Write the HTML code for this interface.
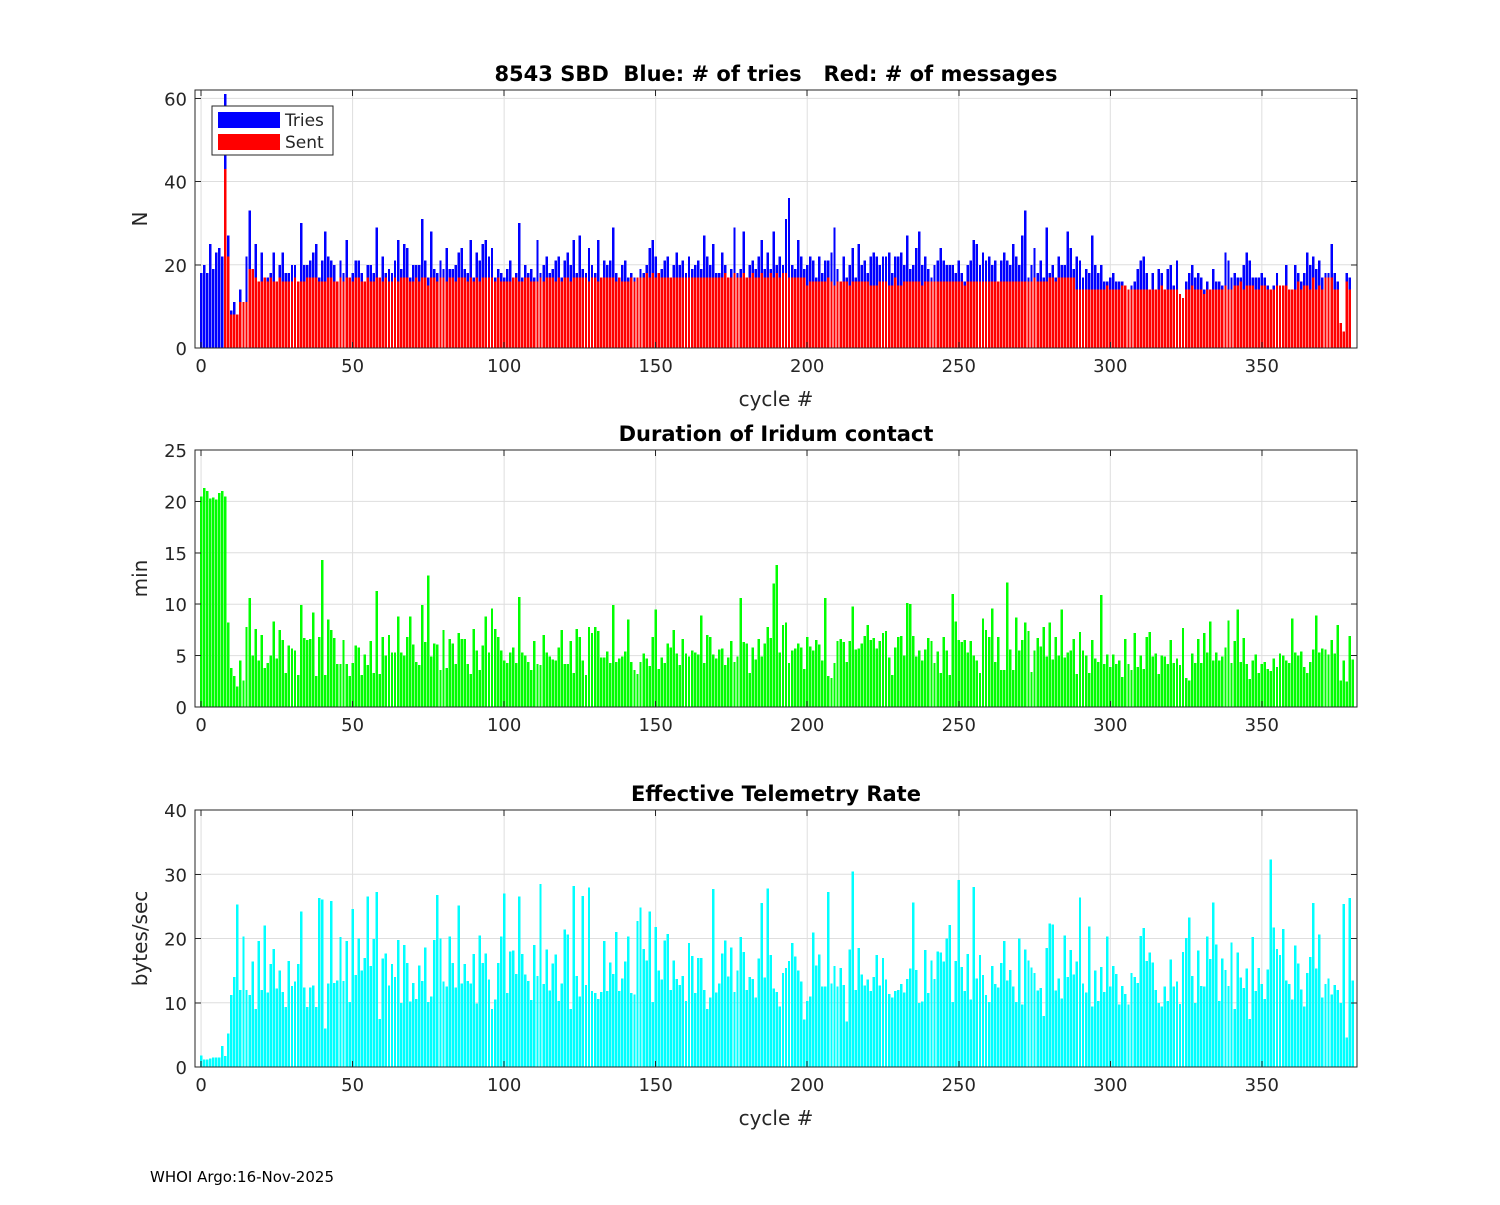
<!DOCTYPE html>
<html><head><meta charset="utf-8"><style>
body{margin:0;background:#fff;}
svg text{font-family:"DejaVu Sans","Liberation Sans",sans-serif;fill:#262626;white-space:pre;}
</style></head><body>
<svg id="c" width="1500" height="1200" viewBox="0 0 1500 1200" xmlns="http://www.w3.org/2000/svg">
<rect width="1500" height="1200" fill="#fff"/>
<text x="150" y="1182" font-size="15" style="fill:#000">WHOI Argo:16-Nov-2025</text>
</svg>
<script>
const tries=[18,20,18,25,19,23,24,22,61,27,9,11,8,14,11,22,33,19,25,16,
23,17,17,18,23,16,20,23,18,18,20,20,16,30,20,20,21,23,25,17,
21,28,22,21,20,16,21,18,26,17,18,21,21,18,16,20,20,18,29,17,
22,18,19,18,21,26,19,25,24,17,20,20,20,31,21,17,28,19,18,21,
19,24,19,19,20,23,24,19,18,26,17,23,21,25,26,22,24,17,19,18,
17,19,21,17,18,30,17,20,18,19,17,26,18,20,22,18,19,21,22,17,
21,23,20,26,18,27,19,18,24,20,18,26,17,21,20,21,29,18,17,20,
21,17,18,17,17,19,18,20,24,26,22,18,19,21,22,17,20,23,20,21,
18,22,19,20,21,19,27,22,20,25,18,18,23,20,17,19,29,18,19,28,
17,20,21,19,22,26,19,23,19,28,20,22,20,31,36,20,19,26,22,19,
20,22,21,17,22,18,21,21,23,29,19,16,22,17,20,24,17,25,20,21,
18,22,23,22,20,22,22,23,18,22,22,23,20,27,19,20,24,28,20,22,
19,17,20,21,24,21,20,20,20,18,21,18,16,20,21,26,25,20,23,21,
22,20,21,16,21,23,21,20,25,22,20,27,33,17,20,24,18,21,17,29,
18,20,17,22,20,20,28,24,19,22,21,17,19,18,27,20,18,20,16,16,
17,18,16,16,16,14,14,15,16,19,21,22,18,14,18,13,19,18,14,19,
20,15,21,13,12,16,18,20,17,18,17,14,16,14,19,16,16,15,23,21,
17,18,17,17,20,23,21,17,17,17,18,17,15,14,15,18,15,15,20,14,
14,20,18,16,18,23,20,22,19,21,17,18,18,25,18,16,6,4,18,17];
const sent=[0,0,0,0,0,0,0,0,43,22,8,8,8,11,11,11,19,19,17,16,
16,17,16,17,16,16,17,16,16,16,16,17,16,16,16,17,17,17,17,16,
16,16,17,17,16,16,17,16,17,17,16,17,17,16,16,17,16,16,17,17,
16,17,16,16,17,16,17,17,17,16,16,17,16,17,17,15,17,17,16,17,
17,16,17,17,16,17,17,17,16,17,16,17,16,17,17,17,17,16,17,16,
16,16,16,17,17,16,16,17,17,16,16,16,17,16,17,17,17,16,17,16,
17,17,16,17,17,17,17,17,16,17,17,16,17,17,17,17,17,16,17,16,
16,16,17,16,17,17,17,18,17,18,17,18,17,17,17,17,17,17,17,17,
17,17,17,17,17,17,17,17,17,17,17,17,17,18,17,17,18,17,17,18,
17,17,18,17,17,18,17,17,18,17,18,17,18,18,17,17,17,17,17,17,
15,16,16,16,16,16,16,17,16,15,16,16,16,16,15,16,16,16,16,16,
16,15,15,15,16,16,16,15,15,17,15,15,16,16,16,16,16,16,15,16,
16,16,16,16,16,16,16,16,16,16,16,16,15,16,16,16,16,16,16,16,
16,16,16,16,16,16,16,16,16,16,16,16,16,16,16,17,16,16,16,16,
17,17,16,17,17,17,17,17,17,14,14,14,14,14,14,14,14,14,14,15,
14,14,14,14,15,15,14,14,14,14,14,14,14,14,14,14,14,15,14,14,
14,14,14,13,12,14,14,15,14,14,14,13,14,14,14,14,14,14,15,14,
14,15,15,16,14,15,15,15,14,14,15,15,14,14,14,15,15,15,15,14,
14,14,16,14,15,15,14,17,14,15,14,17,17,17,14,14,6,4,16,14];
const duration=[20.5,21.3,21,20.3,20.4,20.2,20.8,21,20.5,8.2,3.8,3,2,4.5,2.6,7.8,10.6,5,7.6,4.5,
7,3.8,4.3,5,8.3,4.7,7.5,6.5,3.3,6,5.7,5.5,3.1,9.9,6.7,6.5,6.6,9.2,3,6.8,
14.3,3.1,8.5,7.5,6.7,4.2,4.2,6.5,4.2,3,4.3,6,5.8,3.1,5.1,4.1,6.4,3.3,11.3,3.2,
6.8,5,7,5.3,5.3,8.8,5.3,5,6.8,8.8,6.1,4.4,4.1,9.9,6.3,12.8,4.9,6.2,6.1,3.6,
7.5,3.8,6.6,6.2,4.2,7.2,6.6,6.6,4.2,3.2,7.6,5.5,3.6,6,8.8,5.3,9.6,7.6,6.8,5.5,
4.5,4.3,5.3,5.8,4.3,10.7,5.3,5,4.4,3.6,6.4,4.2,4.1,7,5.3,4.9,4.6,4.5,5.8,7.5,
4.2,4.2,6.4,3.3,7.6,6.8,4.5,3.1,7.8,7.2,7.8,7.4,4.8,4.8,5.4,4.3,9.9,4.4,4.7,4.9,
5.4,8.5,4.4,3.6,3.2,4.4,5.2,4.7,4,6.8,9.5,3.7,4.8,4.3,6.2,5.8,7.5,5.2,4.1,6.6,
5.2,4.9,5.5,5.3,5.1,8.9,4.3,7,6.8,5.1,4.7,5.6,5.7,4.1,4.8,6.4,4.4,4.9,10.6,6.3,
6.2,3.3,5.8,4.6,6.6,4.9,6.2,7.8,6.7,12,13.8,5.3,8,8.2,4.3,5.5,5.7,6.2,5.8,3.7,
6.8,5.9,5.5,6.5,6.1,4.5,10.6,3,2.8,4.3,6.4,6.6,6.3,4.4,6.4,9.8,5.6,5.7,6.2,6.9,
8,6.5,6.7,5.7,6.4,7.2,7.4,4.8,3.1,5.8,6.8,6.9,5,10.1,10,6.9,4.9,5.5,4.5,5.6,
6.7,6.4,4.3,5.4,3.3,6.8,5.5,3.1,11,8.3,6.5,6.3,6.5,5.3,6.4,5,4.5,3.3,8.6,7.5,
6.8,9.6,4.4,6.8,3.6,3.6,12.1,5.6,3.6,8.7,5.5,6.5,8.2,7.4,3.4,5.5,6.7,5.9,7.8,4.9,
8.2,4.6,6.8,5,9.5,4.8,5.3,5.5,6.6,3.2,7.3,5.5,5,3.3,6.5,4.7,4.4,10.9,4.2,5.1,
3.9,5.1,4.2,4.5,2.9,6.6,4.2,3.6,7.2,3.9,5,3.7,6.8,7.3,4.9,5.2,3.2,5,4.9,4.2,
6.5,4.3,4.7,4.1,7.7,2.8,2.6,5.2,4.3,6.6,4.3,7.2,5.3,8.3,4.5,5.3,4.5,4.9,5.8,8.4,
4.3,6.4,9.5,4.4,6.7,4.2,2.7,4.5,5.1,3.3,4.2,4.4,3.7,3.5,4.7,3.9,5.2,5,4.5,4.3,
8.6,5.3,5,5.4,3.9,3.3,4.4,5.6,8.9,5.3,5.7,5.6,5.1,6.5,5.2,8,2.6,4.5,2.5,6.9,4.6];
const rate=[1.8,1.2,1.2,1.3,1.5,1.5,1.5,3.3,1.7,5.2,11.2,14,25.3,12,20.3,12,11.2,16.4,9,19.6,
12,22,11.6,16,18.4,12.2,15,11.7,9.3,16.5,12.6,13.3,16,24.2,12.4,9.3,12.4,12.7,9.3,26.3,
26.1,6,13,25.8,13.1,13.5,20.2,13.4,19.6,10.1,24.6,14.3,20,15,17,26.5,15.7,19.9,27.2,7.5,
16.9,17.7,12.7,16,14,19.8,10,19,16.2,10.2,13.1,10.6,15.8,13.4,18.6,10.1,11,19.8,26.8,20,
13.3,12.5,20.3,16.2,12.4,25.1,13,16,13.4,13,17.6,9.9,20.5,16.2,17.7,13.6,9,10.5,16.2,20.3,
27,11.5,18,18.1,14.5,26.5,17.6,14.4,13.4,10.4,19,14.2,28.5,12.9,18.3,11.9,16.1,17.5,10.3,13,
21.4,20.6,9,28.2,14.2,11,26.6,12.8,27.9,11.8,11.5,10.6,11.7,19.6,11.8,16.3,14.5,21,11.8,13.8,
16.4,20.3,11.5,11.3,22.7,24.8,18.4,16.6,24.2,10.1,21.8,15,13.6,19.7,20.7,12,16.6,13.7,12.8,14.2,
10.3,19.3,17.3,11.5,17,17,12,9,10.8,27.7,11.6,13,17.7,19.7,14.1,18.6,11.7,15,20.2,17.9,
12,14,13.7,10.8,16.9,25.5,13.9,27.8,17.4,12.2,11.7,9.4,14.6,15.4,16.5,19.3,17.2,15,13.3,7.4,
10.3,11,20.9,15.8,17.5,12.5,12.5,27.2,13,15.7,12.5,15.4,12.8,7.1,18.3,30.4,12,18.5,14.4,12.7,
13.6,11.8,14,17.4,12.7,17,13.6,11.4,10.8,11.8,12,12.9,11.6,13.7,15.3,25.6,15.1,10,10.2,18.2,
11.5,16.6,13.7,18,17.8,16.4,20,22.1,10.1,16.5,29.1,15.6,11.8,17.6,10.5,28,13.8,17.4,14.3,11.2,
10.1,15.7,12.9,12.4,16.2,19.6,13.5,15.1,12.5,10.1,20,9.7,18.3,16.6,15.5,14.6,11.9,12.3,7.9,18.5,
22.3,22.2,11.9,13.8,10.7,20.5,14,18.2,14.4,16.4,26.4,13,11.6,21.9,9.4,15,10.3,15.6,11.7,20.3,
12.5,15.7,14.5,9.7,12.6,11.4,9.7,14.6,14,13.1,20.4,21.6,16.5,17.8,16.3,12,10,9.4,12.5,10.3,
16.7,12.5,13.3,9.8,17.9,20.1,23.3,14.2,10,18.1,12.6,12.5,20.3,16.8,25.6,19.1,10.3,16.9,15.1,12.6,
19.4,9,17.8,13.9,12.3,15.3,7.5,20.2,11.8,15.4,12.9,10.6,15.2,32.3,21.7,18.4,17.4,21.5,13.5,12.9,
10.5,18.9,16.1,12.1,9.4,14.6,17.1,25.5,15.3,20.6,10.8,12.9,13.8,11.3,12.8,12,10,25.4,4.6,26.3,13.5];
const xTicks=[0,50,100,150,200,250,300,350];
const yTicks1=[0,20,40,60], yTicks2=[0,5,10,15,20,25], yTicks3=[0,10,20,30,40];

const NS="http://www.w3.org/2000/svg";
const svg=document.getElementById('c');
function mk(tag,attrs,parent){const e=document.createElementNS(NS,tag);for(const k in attrs)e.setAttribute(k,attrs[k]);(parent||svg).appendChild(e);return e;}
const X0=195,X1=1357,XMIN=-2,XMAX=381.4;
const sx=v=>X0+(v-XMIN)/(XMAX-XMIN)*(X1-X0);

function panel(name,top,bot,ymax,yTicks,title,ylabel,xlabel){
  const g=mk('g',{});
  
  
  const sy=v=>bot-v/ymax*(bot-top);
  mk('rect',{x:X0,y:top,width:X1-X0,height:bot-top,fill:'#fff'},g);
  const grid=mk('g',{stroke:'#dedede','stroke-width':1},g);
  
  
  xTicks.forEach(t=>mk('line',{x1:sx(t),x2:sx(t),y1:top,y2:bot},grid));
  yTicks.forEach(t=>mk('line',{x1:X0,x2:X1,y1:sy(t),y2:sy(t)},grid));
  const t=mk('text',{x:(X0+X1)/2,y:top-9,'text-anchor':'middle','font-size':21,'font-weight':'bold',style:'fill:#000'},g);
  t.textContent=title;
  
  
  const yl=mk('text',{x:0,y:0,'text-anchor':'middle','font-size':20,transform:`translate(147,${(top+bot)/2}) rotate(-90)`},g);
  yl.textContent=ylabel;
  
  
  if(xlabel){const xl=mk('text',{x:(X0+X1)/2,y:bot+58,'text-anchor':'middle','font-size':20},g);xl.textContent=xlabel;
    
    }
  return {g,sy};
}
function finish(p,top,bot,yTicks){
  const g=p.g,sy=p.sy;
  mk('rect',{x:X0,y:top,width:X1-X0,height:bot-top,fill:'none',stroke:'#262626','stroke-width':1},g);
  xTicks.forEach(t=>{mk('line',{x1:sx(t),x2:sx(t),y1:bot,y2:bot-6,stroke:'#262626','shape-rendering':'crispEdges'},g);mk('line',{x1:sx(t),x2:sx(t),y1:top,y2:top+6,stroke:'#262626','shape-rendering':'crispEdges'},g);
    const e=mk('text',{x:sx(t),y:bot+24,'text-anchor':'middle','font-size':18},g);e.textContent=t;
    
    });
  yTicks.forEach(t=>{mk('line',{x1:X0,x2:X0+6,y1:sy(t),y2:sy(t),stroke:'#262626','shape-rendering':'crispEdges'},g);mk('line',{x1:X1,x2:X1-6,y1:sy(t),y2:sy(t),stroke:'#262626','shape-rendering':'crispEdges'},g);
    const e=mk('text',{x:X0-8,y:sy(t)+7,'text-anchor':'end','font-size':18},g);e.textContent=t;
    
    });
}
function bars(p,data,color,name){
  const bg=mk('g',{fill:color,'shape-rendering':'crispEdges'},p.g);
  
  
  const w=(sx(0.8)-sx(0));
  data.forEach((v,i)=>{if(v<=0)return;const y=p.sy(v);const r=mk('rect',{x:sx(i)-w/2,y:y,width:w,height:p.sy(0)-y},bg);
    
    });
}
// panel 1
const p1=panel('tries-panel',90,348,62,yTicks1,'8543 SBD  Blue: # of tries   Red: # of messages','N','cycle #');
bars(p1,tries,'#0000ff','tries');
bars(p1,sent,'#ff0000','sent');
finish(p1,90,348,yTicks1);
const lg=mk('g',{},p1.g);


mk('rect',{x:212,y:106,width:121,height:49,fill:'#fff',stroke:'#262626'},lg);
mk('rect',{x:218,y:112,width:62,height:16,fill:'#0000ff'},lg);
mk('rect',{x:218,y:134,width:62,height:16,fill:'#ff0000'},lg);
const l1=mk('text',{x:285,y:126,'font-size':17},lg);l1.textContent='Tries';


const l2=mk('text',{x:285,y:148,'font-size':17},lg);l2.textContent='Sent';


// panel 2
const p2=panel('duration-panel',450,707,25,yTicks2,'Duration of Iridum contact','min',null);
bars(p2,duration,'#00ff00','duration');
finish(p2,450,707,yTicks2);
// panel 3
const p3=panel('rate-panel',810,1067,40,yTicks3,'Effective Telemetry Rate','bytes/sec','cycle #');
bars(p3,rate,'#00ffff','rate');
finish(p3,810,1067,yTicks3);
</script>
</body></html>
